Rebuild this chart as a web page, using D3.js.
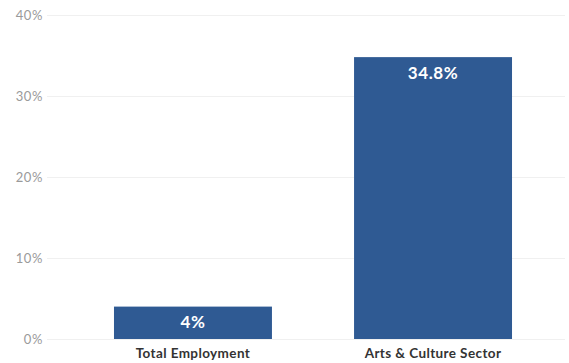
<!DOCTYPE html>
<html>
<head>
<meta charset="utf-8">
<script src="https://cdn.jsdelivr.net/npm/d3@7"></script>
<style>
  body { margin: 0; background: #fff; }
  svg { font-family: Lato, "Open Sans", sans-serif; display: block; }
</style>
</head>
<body>
<div class="chart"></div>
<script>
var categories = ["Total Employment", "Arts & Culture Sector"];
var values = [0.04, 0.348];
var valueLabels = ["4%", "34.8%"];
var yTicks = [0, 0.1, 0.2, 0.3, 0.4];

var width = 569,
    height = 363;

var x = d3.scaleBand()
    .domain(categories)
    .range([53, 573])
    .paddingInner(0.342)
    .paddingOuter(0.254);

var y = d3.scaleLinear()
    .domain([0, 0.4])
    .range([339, 15]);

var svg = d3.select(".chart").append("svg")
    .attr("width", width)
    .attr("height", height);

// gridlines
svg.append("g").selectAll("line")
    .data(yTicks)
    .enter().append("line")
    .attr("x1", 47)
    .attr("x2", 565)
    .attr("y1", function(d) { return Math.round(y(d)) + 0.5; })
    .attr("y2", function(d) { return Math.round(y(d)) + 0.5; })
    .attr("stroke", "#f0f0f0")
    .attr("stroke-width", 1);

// y tick labels
svg.append("g").selectAll("text")
    .data(yTicks)
    .enter().append("text")
    .attr("x", 43)
    .attr("y", function(d) { return y(d) + 4.5; })
    .attr("text-anchor", "end")
    .style("fill", "#9a9a9a")
    .style("font-size", "13px")
    .style("letter-spacing", "0.6px")
    .text(d3.format(".0%"));

// bars
svg.append("g").selectAll("rect")
    .data(values)
    .enter().append("rect")
    .attr("x", function(d, i) { return x(categories[i]); })
    .attr("y", function(d) { return y(d); })
    .attr("width", x.bandwidth())
    .attr("height", function(d) { return y(0) - y(d); })
    .attr("fill", "#2f5a93");

// value labels
svg.append("g").selectAll("text")
    .data(values)
    .enter().append("text")
    .attr("x", function(d, i) { return x(categories[i]) + x.bandwidth() / 2; })
    .attr("y", function(d) { return y(d) + 21.5; })
    .attr("text-anchor", "middle")
    .style("fill", "#fff")
    .style("font-weight", "bold")
    .style("font-size", "17px")
    .style("letter-spacing", "0.6px")
    .text(function(d, i) { return valueLabels[i]; });

// category labels
svg.append("g").selectAll("text")
    .data(categories)
    .enter().append("text")
    .attr("x", function(d) { return x(d) + x.bandwidth() / 2; })
    .attr("y", 357.5)
    .attr("text-anchor", "middle")
    .style("fill", "#333")
    .style("font-weight", "bold")
    .style("font-size", "13.5px")
    .style("letter-spacing", "0.4px")
    .text(function(d) { return d; });
</script>
</body>
</html>
